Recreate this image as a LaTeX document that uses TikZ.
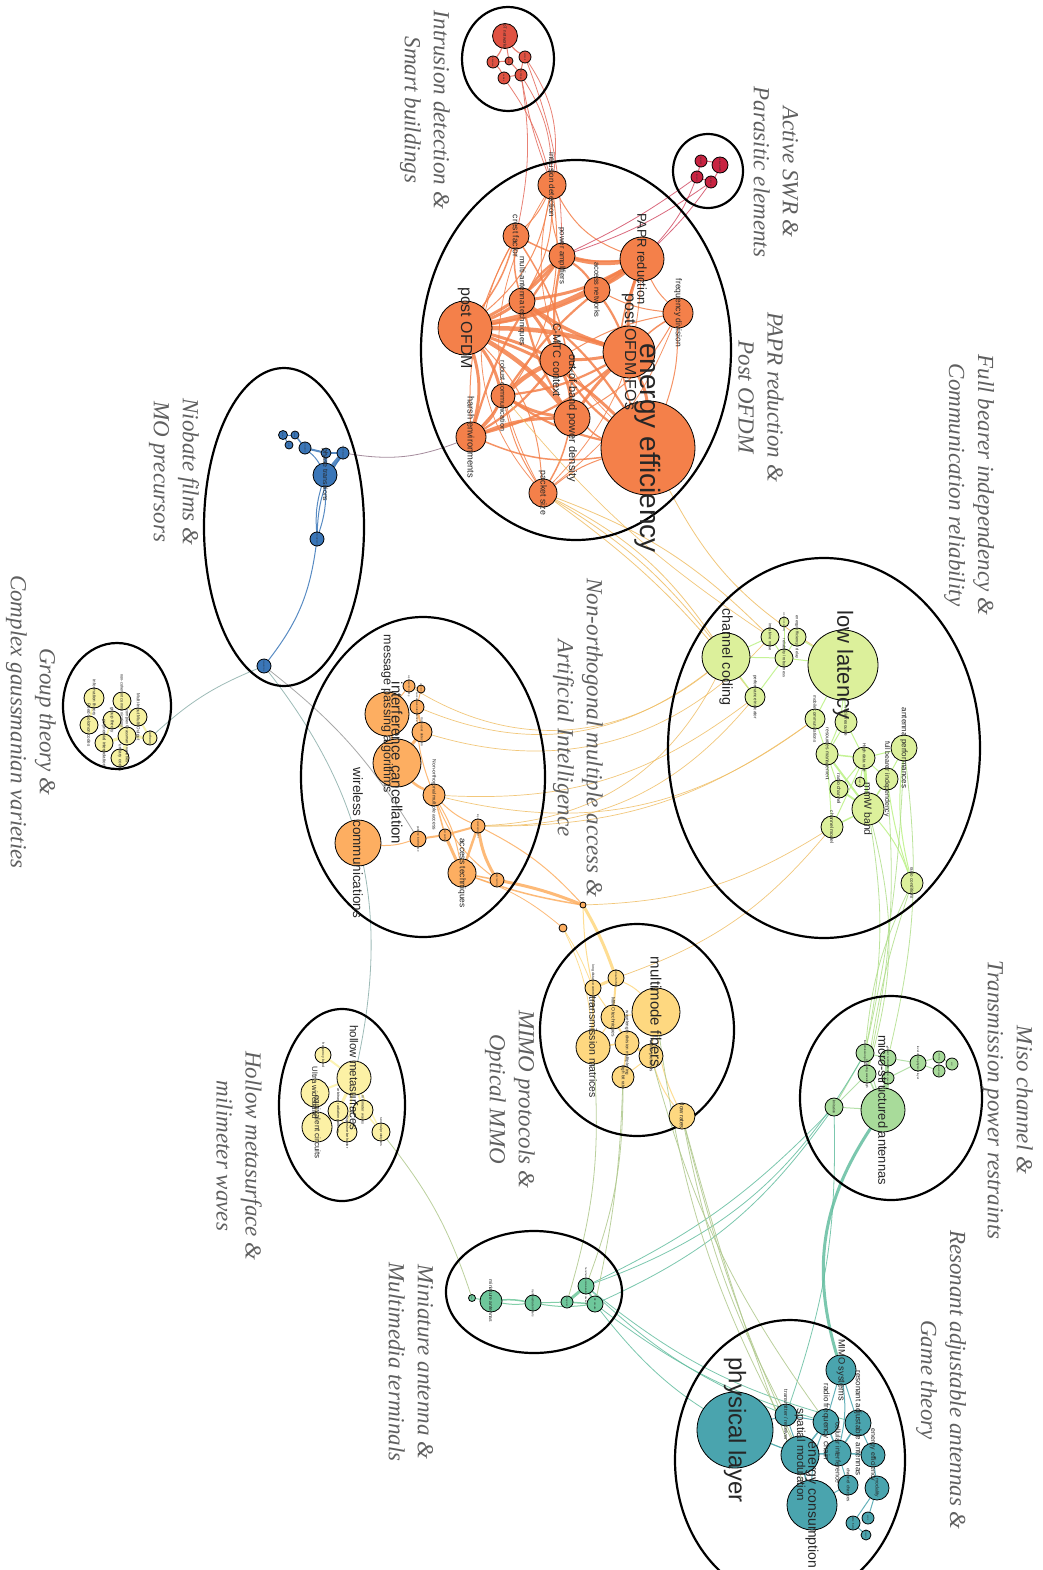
\documentclass[tikz,border=0pt]{standalone}
\usepackage{fontspec}
\setmainfont{Liberation Serif}
\setsansfont{Liberation Sans}
\usetikzlibrary{shapes.geometric}
\pgfdeclarelayer{bg}
\pgfdeclarelayer{fg}
\pgfsetlayers{bg,main,fg}
\definecolor{cR}{RGB}{224,82,66}
\definecolor{cA}{RGB}{200,35,65}
\definecolor{cO}{RGB}{244,128,74}
\definecolor{cB}{RGB}{58,118,184}
\definecolor{cG}{RGB}{246,241,160}
\definecolor{cI}{RGB}{253,174,97}
\definecolor{cL}{RGB}{220,240,155}
\definecolor{cM}{RGB}{254,216,128}
\definecolor{cH}{RGB}{252,241,165}
\definecolor{cS}{RGB}{168,219,154}
\definecolor{cT}{RGB}{110,199,155}
\definecolor{cP}{RGB}{74,164,174}
\definecolor{eBO}{RGB}{150,120,140}
\definecolor{eBG}{RGB}{140,175,170}
\definecolor{eGold}{RGB}{240,190,100}
\definecolor{eOl}{RGB}{175,200,140}
\definecolor{eTe}{RGB}{100,190,160}
\definecolor{clabc}{RGB}{95,95,95}
\tikzset{
  kw/.style={circle, draw=black, line width=0.8pt, inner sep=0pt, outer sep=0pt},
  kwl/.style={rotate=-90, inner sep=0pt, text=black!85},
  clus/.style={ellipse, draw=black, line width=2.2pt, inner sep=0pt},
  clab/.style={rotate=-90, align=center, text=clabc, font=\itshape\fontsize{23}{29}\selectfont},
  ed/.style={opacity=0.85}
}
\newcommand\kw[6]{\node[kw,fill=#1,minimum size=#4pt] (#2) at (#3) {};
  \begin{pgfonlayer}{fg}\node[kwl,font=\sffamily\fontsize{#5}{#5}\selectfont] (#2t) at (#2) {#6};\end{pgfonlayer}}
\begin{document}
\begin{tikzpicture}[x=1pt,y=-1pt]
\clip (0,0) rectangle (1042,1570);
\begin{pgfonlayer}{bg}
\fill[white] (0,0) rectangle (1042,1570);
\end{pgfonlayer}
% clusters
\node[clus, minimum width=92pt, minimum height=104pt] (C1) at (508,59) {};
\node[clus, minimum width=70pt, minimum height=74pt] (C2) at (708,171) {};
\node[clus, minimum width=310pt, minimum height=380pt] (C3) at (576,350) {};
\node[clus, minimum width=160pt, minimum height=318pt] (C4) at (284,527) {};
\node[clus, minimum width=108pt, minimum height=126pt] (C5) at (117,706) {};
\node[clus, minimum width=244pt, minimum height=320pt] (C6) at (423,777) {};
\node[clus, minimum width=312pt, minimum height=380pt] (C7) at (824,748) {};
\node[clus, minimum width=194pt, minimum height=212pt] (C8) at (637,1030) {};
\node[clus, minimum width=182pt, minimum height=204pt] (C9) at (891,1098) {};
\node[clus, minimum width=126pt, minimum height=192pt] (C10) at (342,1105) {};
\node[clus, minimum width=176pt, minimum height=122pt] (C11) at (534,1292) {};
\node[clus, minimum width=230pt, minimum height=280pt] (C12) at (790,1460) {};
% cluster labels
\node[clab] (L1) at (425,110) {Intrusion detection \&\\Smart buildings};
\node[clab] (L2) at (776,172) {Active SWR \&\\Parasitic elements};
\node[clab] (L3) at (761,397) {PAPR reduction \&\\Post OFDM};
\node[clab] (L4) at (969,485) {Full bearer independency \&\\Communication reliability};
\node[clab] (L5) at (174,472) {Niobate films \&\\MO precursors};
\node[clab] (L6) at (31,722) {Group theory \&\\Complex gaussmanian varieties};
\node[clab] (L7) at (578,738) {Non-orthogonal multiple access \&\\Artificial Intelligence};
\node[clab] (L8) at (1008,1100) {Miso channel \&\\Transmission power restraints};
\node[clab] (L9) at (510,1099) {MIMO protocols \&\\Optical MMO};
\node[clab] (L10) at (239,1156) {Hollow metasurface \&\\milimeter waves};
\node[clab] (L11) at (411,1362) {Miniature antenna \&\\Multimedia terminals};
\node[clab] (L12) at (941,1380) {Resonant adjustable antennas \&\\Game theory};
% red
\kw{cR}{rA}{505,36}{25}{4.5}{IoT networks}
\kw{cR}{rB}{493,62}{12}{2.2}{intrusions}
\kw{cR}{rC}{509,61}{8}{1.8}{alarms}
\kw{cR}{rD}{525,57}{12}{2.2}{sensors}
\kw{cR}{rE}{504,78}{12}{2.2}{cables}
\kw{cR}{rF}{521,75}{12}{2.2}{buildings}
% active SWR
\kw{cA}{aA}{701,161}{12}{2}{parasitic}
\kw{cA}{aB}{720,165}{16}{2.5}{active SWR}
\kw{cA}{aC}{697,177}{12}{2}{elements}
\kw{cA}{aD}{711,182}{12}{2}{antennas}
% orange
\kw{cO}{oID}{552,185}{28}{8}{intrusion detection}
\kw{cO}{oCF}{516,236}{26}{8.5}{crest factor}
\kw{cO}{oPA}{562,256}{26}{7.8}{power amplifiers}
\kw{cO}{oAN}{597,290}{26}{7.5}{access networks}
\kw{cO}{oFD}{678,313}{30}{8.5}{frequency division}
\kw{cO}{oMAT}{522,301}{26}{8}{multi-antenna techniques}
\kw{cO}{oRC}{503,396}{24}{7.2}{robust communication}
\kw{cO}{oHE}{471,437}{30}{9.3}{harsh environments}
\kw{cO}{oPS}{543,493}{28}{8.8}{packet size}
\kw{cO}{oCMTC}{557,360}{34}{11}{C-MTC context}
\kw{cO}{oOOB}{572,418}{36}{11}{out-of-band power density}
\kw{cO}{oPAPR}{642,259}{44}{13}{PAPR reduction}
\kw{cO}{oPOFDM}{465,328}{54}{16}{post OFDM}
\kw{cO}{oPOFO}{629,352}{52}{16}{post OFDM FOs}
\kw{cO}{oEE}{648,448}{94}{28}{energy efficiency}
% blue
\kw{cB}{bA}{283,435}{9}{1.5}{thin films}
\kw{cB}{bB}{295,435}{8}{1.5}{niobate}
\kw{cB}{bC}{289,445}{8}{1.5}{MO}
\kw{cB}{bD}{305,448}{12}{1.8}{precursors}
\kw{cB}{bE}{326,453}{10}{1.8}{oxides}
\kw{cB}{bF}{343,453}{12}{1.8}{thin film deposition}
\kw{cB}{bG}{325,475}{24}{7}{phase transitions}
\kw{cB}{bH}{317,539}{14}{1.8}{structural properties}
\kw{cB}{bI}{264,666}{14}{1.8}{ferroelectrics}
% group theory
\kw{cG}{gA}{94,698}{20}{4.5}{information theory}
\kw{cG}{gB}{122,701}{18}{4}{non-coherent communications}
\kw{cG}{gC}{138,717}{18}{4.5}{Multi-Input Multi-Output}
\kw{cG}{gD}{112,720}{18}{4.5}{group theory}
\kw{cG}{gE}{89,725}{18}{4.5}{Reed-Solomon codes}
\kw{cG}{gF}{104,743}{18}{4.5}{polynomial interpolation}
\kw{cG}{gG}{127,736}{18}{4}{complex Grassmann varieties}
\kw{cG}{gH}{120,758}{18}{4.5}{unitary codes}
\kw{cG}{gI}{150,738}{14}{3.5}{Lie theory}
% interference
\kw{cI}{iA}{409,686}{12}{2.3}{superposition coding}
\kw{cI}{iB}{421,689}{8}{1.8}{power domain}
\kw{cI}{iC}{417,707}{14}{2.8}{successive interference}
\kw{cI}{iD}{422,732}{20}{3.3}{multi-user detection}
\kw{cI}{iNOMA}{434,795}{22}{5}{Non-orthogonal multiple access}
\kw{cI}{iPI}{418,839}{16}{2.8}{pairwise interference}
\kw{cI}{iJ}{445,835}{12}{2.3}{user pairing}
\kw{cI}{iLS}{478,826}{14}{2.3}{large scale deployment}
\kw{cI}{iAT}{462,873}{28}{8.5}{access techniques}
\kw{cI}{iK}{497,880}{14}{2.3}{deep learning}
\kw{cI}{iMPA}{387,714}{44}{12.5}{message passing algorithms}
\kw{cI}{iIC}{397,763}{48}{15}{interference cancellation}
\kw{cI}{iWC}{358,843}{46}{13.5}{wireless communications}
\kw{cI}{xA}{583,905}{6}{1.5}{}
\kw{cI}{xB}{563,928}{8}{1.5}{}
% low latency
\kw{cL}{lIN}{770,637}{18}{4}{impulsive noise}
\kw{cL}{lN5}{784,622}{10}{2.3}{connection density}
\kw{cL}{lEED}{797,637}{18}{4}{energy efficiency / delay}
\kw{cL}{lROB}{784,658}{18}{4}{reliability / robustness}
\kw{cL}{lPI}{755,697}{20}{4.5}{performance indicator}
\kw{cL}{lMC}{815,719}{20}{4.5}{mobile communications}
\kw{cL}{lRES}{846,722}{22}{4.5}{radio resource}
\kw{cL}{lRM}{827,754}{22}{5}{resources management}
\kw{cL}{lHD}{864,758}{22}{4.5}{High data rate}
\kw{cL}{lN12}{860,782}{10}{2}{throughput}
\kw{cL}{lAP}{904,748}{26}{8}{antenna performances}
\kw{cL}{lFBI}{887,779}{22}{6.9}{full bearer independency}
\kw{cL}{lRCH}{839,789}{18}{5}{radio channel}
\kw{cL}{lMMW}{868,809}{32}{10.4}{mmW band}
\kw{cL}{lCM}{832,827}{22}{5}{channel model}
\kw{cL}{lRCO}{912,883}{22}{4.5}{radio conditions}
\kw{cL}{lCC}{726,657}{48}{14.4}{channel coding}
\kw{cL}{lLL}{843,665}{70}{22}{low latency}
% MIMO
\kw{cM}{mN2}{616,978}{16}{3}{optical MIMO}
\kw{cM}{mLD}{593,988}{16}{3.5}{long distance communications}
\kw{cM}{mMT}{613,1017}{24}{5}{MIMO techniques}
\kw{cM}{mN5}{627,1043}{24}{4.5}{wavelength division multiplexing}
\kw{cM}{mPR}{651,1056}{24}{4.5}{MIMO protocols}
\kw{cM}{mBR}{623,1077}{22}{4.5}{high bit rate}
\kw{cM}{mFR}{682,1116}{26}{6}{flow rates}
\kw{cM}{mTM}{593,1047}{34}{10.5}{transmission matrices}
\kw{cM}{mMF}{656,1012}{48}{15}{multimode fibers}
% hollow
\kw{cH}{hFB}{323,1055}{16}{3.5}{frequency band}
\kw{cH}{hARP}{338,1111}{20}{3.8}{arbitrary radiation patterns}
\kw{cH}{hMW}{363,1110}{20}{3.8}{millimeter waves}
\kw{cH}{hBEH}{347,1132}{20}{3.8}{dispersive behavior}
\kw{cH}{hSP}{381,1132}{18}{3.5}{several prototypes}
\kw{cH}{hUW}{315,1093}{28}{7.8}{Ultra wideband}
\kw{cH}{hEC}{317,1127}{30}{8}{equivalent circuits}
\kw{cH}{hHM}{354,1078}{34}{11.5}{hollow metasurfaces}
% miso
\kw{cS}{sTR}{865,1053}{18}{3}{transmission power}
\kw{cS}{sN2}{888,1058}{16}{3}{power restraints}
\kw{cS}{sWL}{867,1074}{18}{3}{operating wavelength}
\kw{cS}{sN4}{888,1078}{12}{2.3}{MISO channel}
\kw{cS}{sLIM}{834,1107}{18}{3.5}{limitation}
\kw{cS}{sLPL}{918,1063}{16}{3}{level of the physical layer}
\kw{cS}{sN8}{939,1057}{12}{2}{secrecy}
\kw{cS}{sN9}{939,1071}{12}{2}{eavesdropper}
\kw{cS}{sN10}{952,1064}{12}{2}{user}
\kw{cS}{sMSA}{883,1110}{44}{12.9}{micro-structured antennas}
% miniature
\kw{cT}{tA}{472,1298}{7}{1.5}{size}
\kw{cT}{tMM}{533,1303}{16}{3}{multimedia terminals}
\kw{cT}{tD}{567,1302}{12}{2}{integration}
\kw{cT}{tE}{586,1286}{16}{2.5}{handheld communication devices}
\kw{cT}{tF}{595,1304}{16}{2.5}{RF circuits}
\kw{cT}{tMA}{491,1301}{22}{5}{miniature antennas}
% physical
\kw{cP}{pMIMO}{841,1370}{30}{9.3}{MIMO systems}
\kw{cP}{pTR}{786,1415}{22}{5.5}{transmitter / receiver}
\kw{cP}{pRF}{826,1422}{26}{8}{radio frequency chain}
\kw{cP}{pRAA}{858,1423}{26}{8}{resonant adjustable antennas}
\kw{cP}{pINT}{838,1453}{26}{7}{cellular interference}
\kw{cP}{pEN}{873,1455}{24}{7}{energy efficiency}
\kw{cP}{pCH}{848,1485}{20}{4.5}{channel changes}
\kw{cP}{pMOD}{877,1488}{24}{5}{modality}
\kw{cP}{pS1}{853,1523}{14}{2.5}{game theory}
\kw{cP}{pS2}{868,1518}{12}{2}{users}
\kw{cP}{pS3}{866,1535}{10}{2}{players}
\kw{cP}{pSM}{800,1455}{38}{11.5}{spatial modulation}
\kw{cP}{pEC}{812,1505}{50}{14}{energy consumption}
\kw{cP}{pPL}{735,1430}{76}{24}{physical layer}
% edges
\begin{pgfonlayer}{bg}
\foreach \a/\b/\w/\bd in {oPOFDM/oPAPR/4.5/-10, oPOFDM/oPOFO/4.5/8, oPOFDM/oOOB/4.5/10, oPOFDM/oCMTC/3/5, oPOFDM/oMAT/3/-5, oPOFDM/oPA/3/-10, oPOFDM/oAN/2.2/-8, oPOFDM/oRC/3/10, oPOFDM/oHE/3/15, oPOFDM/oEE/3/12, oPAPR/oPA/4.5/10, oPAPR/oCF/1.5/15, oPAPR/oAN/2.2/5, oPAPR/oPOFO/3/-10, oPAPR/oMAT/3/10, oPAPR/oRC/2.2/-10, oPAPR/oEE/1.5/-20, oPOFO/oEE/3/10, oPOFO/oOOB/3/-5, oPOFO/oMAT/3.5/8, oPOFO/oCMTC/3/5, oPOFO/oRC/2.2/10, oPOFO/oFD/1.5/5, oPOFO/oAN/2.2/-5, oPOFO/oHE/2.2/12, oCMTC/oRC/4.5/-8, oCMTC/oOOB/3/10, oCMTC/oMAT/3/-8, oCMTC/oPA/2.2/8, oCMTC/oHE/2.2/10, oCMTC/oEE/2.2/-10, oOOB/oRC/3/10, oOOB/oHE/3/-10, oOOB/oPS/1.5/8, oOOB/oEE/1.5/-10, oOOB/oMAT/2.2/10, oHE/oRC/3/-10, oHE/oPA/2.2/10, oID/oCF/1/10, oID/oPA/1/-10, oID/oMAT/1/15, oID/oPOFDM/1/20, oID/oHE/1/25, oID/oPS/0.8/-30, oCF/oPOFDM/1.5/10, oCF/oMAT/1.5/-10, oCF/oOOB/1.5/15, oPA/oMAT/2.2/-10, oPA/oAN/2.2/10, oAN/oFD/1/-10, oFD/oEE/1/10, oFD/oOOB/1/15, oFD/oCMTC/1/-10, oFD/oPAPR/1/10, oPS/oEE/1/10, oPS/oPOFDM/1/-20, oPS/oRC/1/10, oEE/oHE/1.5/15, oEE/oMAT/2.2/-10, oEE/oRC/2.2/10, oID/oPAPR/1/-20, oID/oEE/0.8/-30, oCF/oHE/1/-15, oCF/oPS/0.8/-35, oPAPR/oPS/0.8/20, oFD/oPS/0.8/15}
  \draw[ed, draw=cO, line width=\w pt] (\a) to[bend left=\bd] (\b);
\foreach \a/\b/\w/\bd in {rA/rB/1.2/10, rA/rD/1.2/-10, rA/rC/1/0, rB/rE/1/10, rD/rF/1/-10, rE/rF/1/5, rC/rF/1/5, rB/rC/1/0, rE/oID/0.8/10, rF/oID/0.8/15, rF/oID/0.8/-5, rD/oID/0.8/20, rF/oCF/0.8/10, rD/oPA/0.8/10}
  \draw[ed, draw=cR!85!white, line width=\w pt] (\a) to[bend left=\bd] (\b);
\foreach \a/\b/\w/\bd in {aA/aB/1/10, aA/aC/1/0, aC/aD/1/0, aB/aD/1/10, aC/oPA/0.8/5, aD/oPA/0.8/8, aC/oPAPR/0.8/10, aD/oPAPR/0.8/5}
  \draw[ed, draw=cA!80!white, line width=\w pt] (\a) to[bend left=\bd] (\b);
\foreach \a/\b/\w/\bd in {bA/bB/1/0, bA/bC/1/0, bB/bD/1.5/0, bD/bE/2/0, bD/bG/1/10, bE/bG/3/0, bF/bG/4/0, bE/bF/2/0, bG/bH/1/10, bG/bH/1/-10, bF/bH/1/-15, bH/bI/1/15}
  \draw[ed, draw=cB, line width=\w pt] (\a) to[bend left=\bd] (\b);
\draw[ed, draw=eBO, line width=0.8pt] (bF) to[bend left=-15] (oHE);
\draw[ed, draw=eBG, line width=0.8pt] (bI) to[bend left=-10] (gI);
\draw[ed, draw=gray!80, line width=0.8pt] (bI) to[bend left=10] (iPI);
\draw[ed, draw=eBG, line width=0.8pt] (bI) to[bend left=25] (hHM);
\foreach \a/\b/\w/\bd in {gD/gG/4/10, gG/gH/4/10, gI/gG/3/0, gA/gE/2/0, gF/gG/3/0, gC/gB/2/0, gD/gF/2/0, gC/gI/2/0}
  \draw[ed, draw=cG, line width=\w pt] (\a) to[bend left=\bd] (\b);
\foreach \a/\b/\w/\bd in {iC/iD/2/0, iD/iIC/3/0, iMPA/iIC/2/0, iIC/iNOMA/2.5/-10, iNOMA/iJ/1.5/0, iNOMA/iAT/1/10, iJ/iAT/3/0, iJ/iLS/2/0, iLS/iAT/2.5/0, iLS/iK/3/-10, iAT/iK/1.5/0, iPI/iJ/2/0, iPI/iWC/1/10, iNOMA/iLS/1/-10, iNOMA/iK/1/-15, iA/iMPA/1/0, iB/iC/1/0, iA/iB/1/0, iC/iNOMA/1/-10, iK/xA/3/5, iLS/xA/1/10, iAT/xA/1.5/-5, iAT/xB/0.8/10}
  \draw[ed, draw=cI, line width=\w pt] (\a) to[bend left=\bd] (\b);
\foreach \a/\b/\w/\bd in {xA/mN2/3/5, xA/mLD/1/-5, xB/mLD/0.8/5, xB/mTM/0.8/10, mN2/mMT/2/0, mN2/mLD/3/0, mLD/mTM/2/0, mMT/mN5/2/0, mMT/mTM/1/0, mN5/mPR/3/0, mN5/mTM/1.5/0, mN5/mBR/1.5/0, mPR/mMF/1/0, mMF/mMT/1/0, mMF/mFR/1/-10, mPR/mFR/1/-10, mBR/mPR/1/0, mLD/mMT/1/0, mN2/mMF/1/10}
  \draw[ed, draw=cM, line width=\w pt] (\a) to[bend left=\bd] (\b);
\foreach \a/\b/\w/\bd in {oEE/lLL/0.8/-15, oPS/lCC/0.8/10, oPS/lCC/0.8/14, oPS/lIN/0.8/12, oPS/lPI/0.8/8, iA/lCC/0.7/-35, iC/lCC/0.7/-30, iD/lIN/0.7/-32, iNOMA/lMC/0.7/-25, iLS/lPI/0.7/-25, iLS/lCC/0.7/-30, iLS/lMC/0.7/-18, xA/lCM/0.7/-15, iNOMA/lPI/0.7/-20, oRC/lIN/0.7/-8, mN2/lCM/0.7/-15}
  \draw[ed, draw=eGold, line width=\w pt] (\a) to[bend left=\bd] (\b);
\foreach \a/\b/\w/\bd in {lLL/lRES/1/0, lLL/lMC/1/0, lLL/lRM/1/10, lLL/lEED/1/0, lLL/lROB/1/0, lCC/lIN/1/0, lCC/lROB/1/0, lCC/lPI/1/0, lIN/lROB/1/0, lEED/lROB/1/0, lN5/lROB/1/0, lROB/lPI/1/0, lMC/lRM/1/0, lRM/lHD/1.5/0, lRM/lMMW/2/0, lHD/lMMW/3/0, lHD/lFBI/1/0, lHD/lAP/1/0, lAP/lFBI/1/0, lFBI/lMMW/1.5/0, lRCH/lMMW/2/0, lRCH/lRM/1/0, lCM/lMMW/1.5/0, lCM/lRM/1/0, lMMW/lRCO/1/10, lAP/lRCO/1/-10, lFBI/lRCO/1/-5, lRES/lRM/1/0, lRES/lHD/1/0, lN12/lHD/1/0, lRCH/lHD/1/0, lCM/lHD/1/0}
  \draw[ed, draw=cL!85!green, line width=\w pt] (\a) to[bend left=\bd] (\b);
\foreach \a/\b/\w/\bd in {lRCO/sTR/0.8/-10, lRCO/sWL/0.8/-5, lMMW/sTR/0.8/10, lFBI/sWL/0.8/8, lAP/sN2/0.8/10, lMMW/sWL/0.8/15, lAP/sTR/0.8/5}
  \draw[ed, draw=cS!90!yellow, line width=\w pt] (\a) to[bend left=\bd] (\b);
\foreach \a/\b/\w/\bd in {sN2/sMSA/4/0, sN4/sMSA/4/0, sTR/sMSA/1/0, sWL/sMSA/1.5/0, sLIM/sTR/1/0, sLIM/sWL/1/0, sLIM/sMSA/1/0, sLPL/sN2/1/0, sLPL/sN4/1/0, sLPL/sN8/1/0, sLPL/sN9/1/0, sN8/sN10/1/0, sN9/sN10/1/0, sTR/sN2/1/0, sN2/sN4/1.5/0}
  \draw[ed, draw=cS, line width=\w pt] (\a) to[bend left=\bd] (\b);
\draw[ed, draw=eTe, line width=3pt] (sMSA) to[bend left=-25] (pMIMO);
\foreach \a/\b/\w/\bd in {sLIM/tE/0.8/10, sLIM/tF/0.8/15, sLIM/pTR/0.8/10, sTR/tE/0.8/20, tE/pTR/0.8/-10, tF/pRF/0.8/-10, tF/pSM/0.8/-15, tE/pRAA/0.8/-12}
  \draw[ed, draw=eTe, line width=\w pt] (\a) to[bend left=\bd] (\b);
\foreach \a/\b/\w/\bd in {mFR/pSM/0.8/-5, mFR/pTR/0.8/-8, mFR/pEC/0.8/-3, mMF/pSM/0.8/-10, mPR/pRF/0.8/-10, mBR/tE/0.8/10, mBR/tF/0.8/5, mTM/tD/0.8/10, hSP/tA/0.8/10}
  \draw[ed, draw=eOl, line width=\w pt] (\a) to[bend left=\bd] (\b);
\foreach \a/\b/\w/\bd in {hHM/hARP/3/0, hHM/hMW/2/0, hHM/hUW/2/0, hFB/hHM/2/0, hARP/hBEH/2/0, hEC/hARP/2/0, hHM/hSP/1.5/0, hMW/hSP/1.5/0, hUW/hEC/2/0, hHM/hBEH/2/0}
  \draw[ed, draw=cH, line width=\w pt] (\a) to[bend left=\bd] (\b);
\foreach \a/\b/\w/\bd in {tA/tMA/1/0, tMA/tMM/1.5/8, tMA/tMM/1/-8, tMM/tD/1/0, tMM/tF/1/-8, tD/tE/3/0, tD/tF/1.5/0, tE/tF/2/0}
  \draw[ed, draw=cT, line width=\w pt] (\a) to[bend left=\bd] (\b);
\foreach \a/\b/\w/\bd in {pMIMO/pRF/1/0, pMIMO/pRAA/1/0, pRF/pINT/1.5/0, pRAA/pINT/1.5/0, pRAA/pEN/1/0, pSM/pINT/1.5/0, pSM/pRF/1.5/0, pSM/pEC/1.5/0, pINT/pCH/1/0, pCH/pEC/1/0, pINT/pEN/1.5/0, pEN/pMOD/1/0, pMOD/pS1/1/0, pMOD/pS2/1/0, pS1/pS3/1/0, pTR/pSM/1/0, pTR/pRF/1/0, pPL/pTR/1/0, pPL/pSM/1/0, pMIMO/pINT/1/10, pRF/pEC/1/-10}
  \draw[ed, draw=cP, line width=\w pt] (\a) to[bend left=\bd] (\b);
\end{pgfonlayer}
\end{tikzpicture}
\end{document}
